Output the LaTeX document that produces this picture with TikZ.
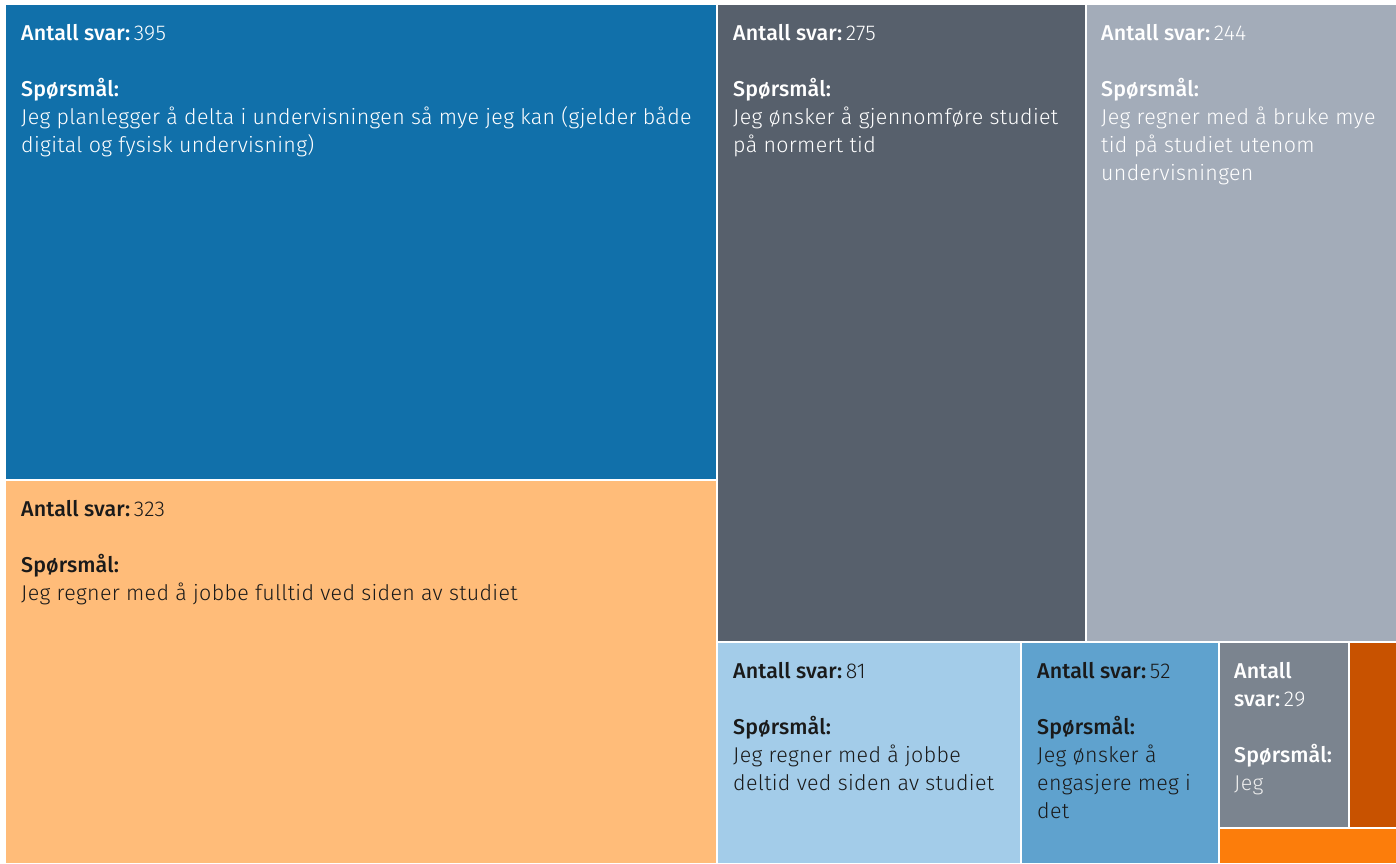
\documentclass[tikz,border=0pt]{standalone}
\usepackage{fontspec}
\setmainfont{Fira Sans}[LetterSpace=1.5]
\newfontfamily\lblfont{Fira Sans Medium}[LetterSpace=0.5]
\newfontfamily\txtfont{Fira Sans Light}[LetterSpace=1.5]
\definecolor{cblue}{HTML}{1170AA}
\definecolor{corangel}{HTML}{FFBC79}
\definecolor{cslate}{HTML}{57606C}
\definecolor{cgreyl}{HTML}{A3ACB9}
\definecolor{cbluel}{HTML}{A3CCE9}
\definecolor{cbluem}{HTML}{5FA2CE}
\definecolor{cgrey}{HTML}{7B848F}
\definecolor{corange}{HTML}{FC7D0B}
\definecolor{corangeD}{HTML}{C85200}
\definecolor{darktext}{HTML}{1A1A1A}
\begin{document}
\begin{tikzpicture}[x=1bp,y=-1bp,
  lbl/.style={anchor=north west,inner sep=0pt,align=left,
    font=\fontsize{21.5}{28}\selectfont\txtfont},
  wtext/.style={lbl,text=white},
  dtext/.style={lbl,text=darktext}]
\useasboundingbox (0,0) rectangle (1396,863);
\fill[white] (0,0) rectangle (1396,863);
% boxes
\fill[cblue]    (6,5)     rectangle (716,479);
\fill[corangel] (6,481)   rectangle (716,863);
\fill[cslate]   (718,5)   rectangle (1085,641);
\fill[cgreyl]   (1087,5)  rectangle (1396,641);
\fill[cbluel]   (718,643) rectangle (1020,863);
\fill[cbluem]   (1022,643) rectangle (1218,863);
\fill[cgrey]    (1220,643) rectangle (1348,827);
\fill[corangeD] (1350,643) rectangle (1396,827);
\fill[corange]  (1220,829) rectangle (1396,863);
% texts
\node[wtext] (t1) at (21,24.5) {{\lblfont Antall svar:}\,395\\[28bp]
  {\lblfont Spørsmål:}\\
  Jeg planlegger å delta i undervisningen så mye jeg kan (gjelder både\\
  digital og fysisk undervisning)};
\node[dtext] (t2) at (21,500.5) {{\lblfont Antall svar:}\,323\\[28bp]
  {\lblfont Spørsmål:}\\
  Jeg regner med å jobbe fulltid ved siden av studiet};
\node[wtext] (t3) at (733,24.5) {{\lblfont Antall svar:}\,275\\[28bp]
  {\lblfont Spørsmål:}\\
  Jeg ønsker å gjennomføre studiet\\
  på normert tid};
\node[wtext] (t4) at (1101,24.5) {{\lblfont Antall svar:}\,244\\[28bp]
  {\lblfont Spørsmål:}\\
  Jeg regner med å bruke mye\\
  tid på studiet utenom\\
  undervisningen};
\node[dtext] (t5) at (733,662.5) {{\lblfont Antall svar:}\,81\\[28bp]
  {\lblfont Spørsmål:}\\
  Jeg regner med å jobbe\\
  deltid ved siden av studiet};
\node[dtext] (t6) at (1037,662.5) {{\lblfont Antall svar:}\,52\\[28bp]
  {\lblfont Spørsmål:}\\
  Jeg ønsker å\\
  engasjere meg i\\
  det};
\node[wtext] (t7) at (1234,662.5) {{\lblfont Antall}\\
  {\lblfont svar:}\,29\\[28bp]
  {\lblfont Spørsmål:}\\
  {\color{white!85!gray}Jeg}};
\end{tikzpicture}
\end{document}
